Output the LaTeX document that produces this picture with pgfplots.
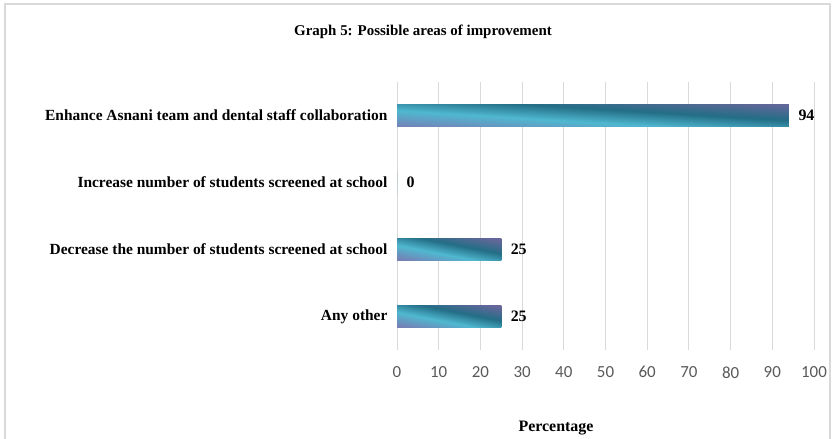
\documentclass[border=0pt]{standalone}
\usepackage{pgfplots}
\pgfplotsset{compat=1.18}
\usepackage{fontspec}
\setmainfont{Liberation Serif}
\newfontfamily\calibri{Carlito}
\definecolor{tealdark}{HTML}{236E86}
\definecolor{cyanbright}{HTML}{4FB8D0}
\definecolor{purp}{HTML}{8A62A6}
\definecolor{gridgray}{HTML}{D9D9D9}
\definecolor{tickgray}{HTML}{595959}
\pgfdeclareverticalshading{barshade}{100bp}{color(0bp)=(purp); color(25bp)=(purp!60!cyanbright); color(42bp)=(cyanbright); color(58bp)=(tealdark); color(75bp)=(purp!60!tealdark); color(100bp)=(purp)}
\begin{document}
\begin{tikzpicture}
\path[use as bounding box] (0,0) rectangle (833bp,-439bp);
\draw[gridgray, line width=1.2bp] (5bp,-450bp) -- (5bp,-4bp) -- (830bp,-4bp) -- (830bp,-450bp);
\node[font=\bfseries\fontsize{15}{17}\selectfont] at (423bp,-32bp) {Graph 5: Possible areas of improvement};
\node[font=\bfseries\fontsize{16}{18}\selectfont] at (556bp,-428bp) {Percentage};
\begin{axis}[
  at={(397bp,-350bp)}, anchor=south west,
  scale only axis, width=417bp, height=268bp,
  xbar, bar width=0.34, bar shift=0pt,
  xmin=0, xmax=100, ymin=-0.5, ymax=3.5,
  xtick={0,10,...,100},
  ytick={0,1,2,3},
  yticklabels={Any other, Decrease the number of students screened at school, Increase number of students screened at school, Enhance Asnani team and dental staff collaboration},
  axis line style={draw=none},
  major tick length=0pt,
  xmajorgrids, grid style={gridgray, line width=1bp},
  ymajorgrids=false,
  xticklabel style={font=\calibri\fontsize{17}{19}\selectfont, text=tickgray, anchor=north, yshift=-13bp},
  yticklabel style={font=\bfseries\fontsize{15.5}{17}\selectfont, xshift=-6bp},
  /pgf/number format/assume math mode=true,
  nodes near coords,
  nodes near coords style={font=\bfseries\fontsize{16}{18}\selectfont, text=black, anchor=west, xshift=6bp},
  every axis plot/.append style={draw=none, shading=barshade},
  clip=false,
]
\addplot[shading angle=-11] coordinates {(25,0)};
\addplot[shading angle=-11] coordinates {(25,1)};
\addplot[shading angle=-11] coordinates {(0,2)};
\addplot[shading angle=-3.5] coordinates {(94,3)};
\end{axis}
\end{tikzpicture}
\end{document}
